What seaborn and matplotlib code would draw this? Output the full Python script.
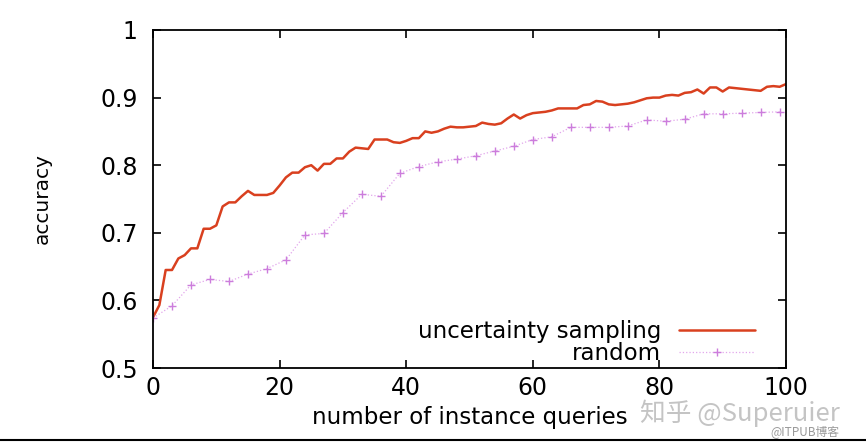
import matplotlib
matplotlib.use("Agg")
import matplotlib.pyplot as plt
from matplotlib.lines import Line2D
import seaborn as sns
import pandas as pd

# uncertainty sampling: one point per query, 0..100
unc_queries = list(range(0, 101))
unc_accuracy = [
    0.575, 0.593, 0.645, 0.645, 0.662, 0.667, 0.677, 0.677, 0.706, 0.706,
    0.711, 0.739, 0.745, 0.745, 0.754, 0.762, 0.756, 0.756, 0.756, 0.759,
    0.770, 0.782, 0.789, 0.789, 0.797, 0.800, 0.792, 0.802, 0.802, 0.810,
    0.810, 0.820, 0.826, 0.825, 0.824, 0.838, 0.838, 0.838, 0.834, 0.833,
    0.836, 0.840, 0.840, 0.850, 0.848, 0.850, 0.854, 0.857, 0.856, 0.856,
    0.857, 0.858, 0.863, 0.861, 0.860, 0.862, 0.869, 0.875, 0.869, 0.874,
    0.877, 0.878, 0.879, 0.881, 0.884, 0.884, 0.884, 0.884, 0.889, 0.890,
    0.895, 0.894, 0.890, 0.889, 0.890, 0.891, 0.893, 0.896, 0.899, 0.900,
    0.900, 0.903, 0.904, 0.903, 0.907, 0.908, 0.912, 0.906, 0.915, 0.915,
    0.909, 0.915, 0.914, 0.913, 0.912, 0.911, 0.910, 0.916, 0.917, 0.916,
    0.920,
]

# random sampling: measured every 3 queries
rand_queries = [0, 3, 6, 9, 12, 15, 18, 21, 24, 27, 30, 33, 36, 39, 42, 45, 48,
                51, 54, 57, 60, 63, 66, 69, 72, 75, 78, 81, 84, 87, 90, 93, 96, 99]
rand_accuracy = [
    0.574, 0.592, 0.623, 0.631, 0.628, 0.639, 0.647, 0.660, 0.697, 0.699,
    0.730, 0.757, 0.754, 0.788, 0.798, 0.805, 0.809, 0.814, 0.821, 0.828,
    0.838, 0.842, 0.856, 0.856, 0.856, 0.858, 0.867, 0.865, 0.868, 0.876,
    0.876, 0.877, 0.878, 0.879,
]

x_ticks = [0, 20, 40, 60, 80, 100]
y_ticks = [0.5, 0.6, 0.7, 0.8, 0.9, 1.0]
y_tick_labels = ["0.5", "0.6", "0.7", "0.8", "0.9", "1"]

sns.set_style("ticks")
plt.rcParams["font.family"] = ["DejaVu Sans"]
plt.rcParams["text.color"] = "black"
plt.rcParams["axes.labelcolor"] = "black"

unc_df = pd.DataFrame({"queries": unc_queries, "accuracy": unc_accuracy})
rand_df = pd.DataFrame({"queries": rand_queries, "accuracy": rand_accuracy})

fig = plt.figure(figsize=(8.66, 4.45), dpi=100)
ax = fig.add_axes([0.1767, 0.173, 0.7309, 0.7596])

sns.lineplot(data=unc_df, x="queries", y="accuracy", ax=ax, color="#d9401f",
             linewidth=1.8, label="uncertainty sampling")
sns.lineplot(data=rand_df, x="queries", y="accuracy", ax=ax, color="#e2a6ec",
             linewidth=0.9, linestyle=":", marker="+", markersize=6,
             markeredgewidth=1.0, markeredgecolor="#cc7ddc", label="random")

ax.set_xlim(0, 100)
ax.set_ylim(0.5, 1.0)
ax.set_xticks(x_ticks)
ax.set_yticks(y_ticks)
ax.set_yticklabels(y_tick_labels)

for s in ax.spines.values():
    s.set_visible(True)
    s.set_linewidth(1.3)
    s.set_color("black")

ax.tick_params(direction="in", top=True, right=True, length=6, width=1.2,
               labelsize=17, colors="black")
ax.tick_params(axis="x", pad=6)
ax.tick_params(axis="y", pad=11)

ax.set_xlabel("number of instance queries", fontsize=16.5, labelpad=4)
ax.set_ylabel("accuracy", fontsize=14.5)
ax.yaxis.set_label_coords(-0.16, 0.5)

leg = ax.legend(loc="lower right", bbox_to_anchor=(0.951, 0.008), frameon=False,
                markerfirst=False, handlelength=3.3, handletextpad=0.8,
                labelspacing=-0.05, fontsize=16.5, borderaxespad=0, borderpad=0)

# watermarks
cjk = ["Noto Sans CJK SC", "DejaVu Sans"]
fig.text(0.739, 0.072, "知乎 @Superuier", fontsize=18.5, color="#c4c4c4",
         va="center", ha="left", family=cjk)
fig.text(0.89, 0.028, "@ITPUB博客", fontsize=8.5, color="#9a9a9a",
         va="center", ha="left", family=cjk)

# border line along the bottom of the image
fig.add_artist(Line2D([0, 1], [0.0112, 0.0112], transform=fig.transFigure,
                      color="black", linewidth=1.5))

fig.savefig("out.png", dpi=100)
